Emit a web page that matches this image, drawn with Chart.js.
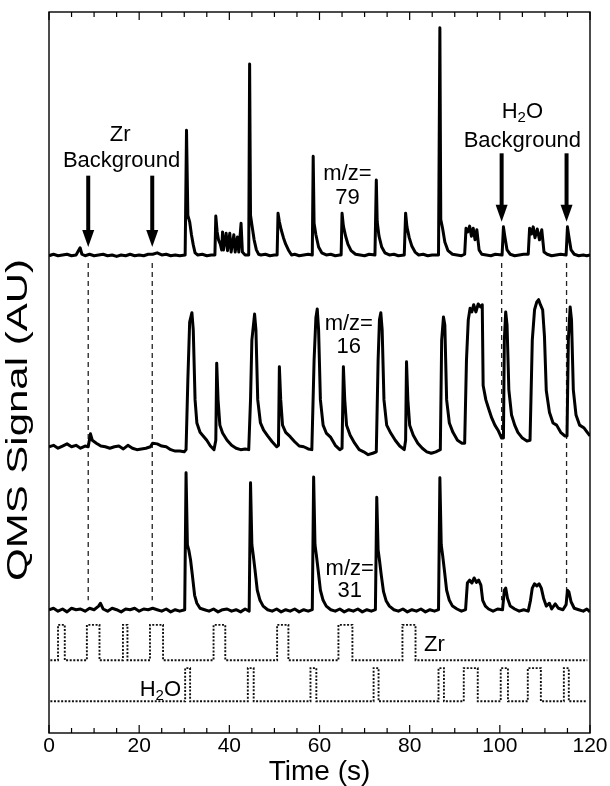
<!DOCTYPE html>
<html>
<head>
<meta charset="utf-8">
<title>QMS Signal vs Time</title>
<script src="https://cdn.jsdelivr.net/npm/chart.js@4.4.1/dist/chart.umd.min.js"></script>
<style>
  html, body { margin: 0; padding: 0; background: #fff; }
</style>
</head>
<body>
<canvas id="qms" width="610" height="786"></canvas>
<script>
// [time (s), signal (AU)] for each mass channel, traces already stacked
const mz79 = [[0,66.2],[1,66.4],[2,66.2],[3,66.3],[4,66.4],[5,66.2],[6,66.3],[6.9,67.3],[7.3,66.4],[8,66.2],[9,66.4],[10,66.2],[11,66.3],[12,66.4],[13,66.2],[14,66.3],[15,66.1],[16,66.3],[17,66.2],[18,66.4],[19,66.2],[20,66.3],[21,66.2],[22,66.4],[23,66.4],[24,66.6],[25,66.3],[26,66.4],[27,66.2],[28,66.3],[29,66.2],
  [30.2,66.3],[30.5,83.6],[30.8,71.8],[31.2,70.9],[31.6,69.1],[32,67.7],[32.4,66.6],[33,66.3],[34,66.4],[35,66.2],[36,66.3],[36.8,66.3],
  [37,71.7],[37.3,69.5],[37.6,68.4],[38,67.8],[38.3,67.0],[38.5,69.5],[38.7,67.0],[39.3,69.3],[39.6,66.9],[40.1,69.3],[40.4,66.7],[41,69.1],[41.3,66.7],[41.8,68.8],[42.1,66.7],[42.6,70.7],[42.9,66.7],[43.5,66.3],[44.3,66.3],
  [44.5,92.8],[44.7,71.8],[45,70.5],[45.5,68.4],[46,67.0],[46.5,66.4],[47,66.3],[48,66.4],[49,66.2],[50,66.3],[50.6,66.3],
  [50.8,72.1],[51.1,70.9],[51.5,69.8],[52,68.7],[52.5,67.8],[53.1,67.0],[53.8,66.3],[54.5,66.4],[55.5,66.2],[56.5,66.3],[57.5,66.4],[58.4,66.3],
  [58.6,80.0],[58.8,70.7],[59.2,69.1],[59.8,67.4],[60.5,66.6],[61.5,66.3],[62.5,66.4],[63.5,66.2],[64.5,66.3],[64.8,66.3],
  [65,72.1],[65.3,70.3],[65.8,68.9],[66.3,67.8],[67,66.9],[68,66.4],[69,66.3],[70,66.2],[71,66.4],[72.3,66.3],
  [72.6,76.7],[72.8,70.9],[73.2,68.9],[73.8,67.4],[74.5,66.6],[75.5,66.3],[76.5,66.4],[77.5,66.2],[78.8,66.3],
  [79.1,72.1],[79.4,70.2],[79.9,68.7],[80.5,67.5],[81.2,66.7],[82,66.3],[83,66.4],[84,66.2],[85,66.3],[86.4,66.3],
  [86.7,97.8],[86.9,71.2],[87.3,70.0],[87.8,68.1],[88.5,66.9],[89.5,66.4],[90.5,66.3],[91.5,66.2],[92.2,66.4],
  [92.5,70.0],[92.9,69.5],[93.3,70.3],[93.7,68.9],[94.1,70.0],[94.5,68.4],[94.9,69.8],[95.4,67.0],[96,66.4],[97,66.3],[98,66.2],[99,66.4],[100.5,66.3],
  [100.8,70.2],[101.1,68.9],[101.6,67.0],[102.3,66.4],[103.3,66.2],[104.3,66.3],[105.3,66.4],[106.3,66.4],
  [106.6,70.0],[107,69.2],[107.4,70.2],[107.8,68.7],[108.3,69.9],[108.8,68.4],[109.3,69.8],[109.8,66.7],[110.5,66.4],[111.5,66.2],[112.5,66.3],[113.5,66.4],[114.7,66.3],
  [115,70.2],[115.3,68.9],[115.8,67.0],[116.5,66.4],[117.5,66.2],[118.5,66.3],[119.3,66.2],[120,66.3]];

const mz16 = [[0,39.7],[1,39.9],[2,39.5],[3,39.8],[4,40.1],[5,39.7],[6,39.9],[7,39.5],[8,39.8],[8.7,39.7],[9.2,41.5],[9.6,40.6],[10.5,40.2],[11.5,39.8],[12.5,39.7],[13.5,39.5],[14.5,39.7],[15.5,39.8],[16.5,39.4],[17.5,39.9],[18.5,39.5],[19.5,39.3],[20.5,39.4],[21.5,39.5],[22.5,39.7],[23,40.2],[24,40.1],[25,39.8],[26,39.7],[27,39.3],[28,39.1],[29,39.1],[30,39.0],
  [30.4,39.3],[30.8,49.0],[31.2,57.0],[31.7,58.3],[32,55.9],[32.4,46.2],[32.8,43.0],[33.5,41.7],[34.2,41.2],[35,40.6],[35.8,39.8],[36.6,39.3],
  [37,40.6],[37.2,51.3],[37.5,46.2],[37.9,42.7],[38.5,41.6],[39.5,40.6],[40.5,39.9],[41.5,39.5],[42.5,39.3],[43.5,39.4],[44.3,39.3],
  [44.7,46.2],[45,54.5],[45.6,58.1],[45.9,55.9],[46.3,46.2],[46.9,43.0],[47.6,42.0],[48.5,41.2],[49.5,40.4],[50.5,39.7],
  [50.9,39.9],[51.1,50.8],[51.4,46.2],[51.8,42.7],[52.5,41.7],[53.5,41.1],[54.5,40.4],[55.5,39.8],[56.5,39.7],[57.5,39.4],[58.3,39.3],
  [58.8,51.7],[59.2,57.6],[59.5,58.8],[59.8,55.9],[60.2,46.2],[60.8,42.7],[61.5,41.6],[62.5,41.0],[63.5,39.9],[64.5,39.3],
  [65,39.5],[65.3,50.8],[65.6,46.2],[66,42.7],[66.8,41.3],[67.8,40.2],[68.8,39.3],[69.8,39.0],[70.8,38.6],[71.8,38.8],[72.6,39.0],
  [73,51.7],[73.3,57.3],[73.6,58.3],[73.9,55.9],[74.3,46.2],[74.9,42.7],[75.8,41.6],[76.8,40.6],[77.8,39.8],[78.8,39.3],
  [79.1,40.6],[79.3,51.5],[79.6,46.2],[80,42.7],[80.8,41.3],[81.8,40.2],[82.8,39.5],[83.8,39.0],[84.8,38.8],[85.8,39.0],[86.8,39.3],
  [87.1,54.5],[87.5,57.7],[87.8,56.6],[88.2,46.2],[88.8,43.0],[89.6,41.7],[90.6,40.6],[91.6,40.2],[92.2,40.2],
  [92.6,51.7],[93,57.3],[93.4,58.9],[93.8,58.4],[94.2,59.4],[94.7,58.4],[95.2,59.5],[95.7,59.1],[96.1,59.4],[96.3,48.2],[96.9,46.2],[97.5,45.0],[98.2,43.7],[98.9,42.7],[99.6,42.0],[100.4,40.9],[100.8,40.9],
  [101,54.5],[101.3,58.4],[101.6,56.6],[102,47.6],[102.6,44.1],[103.3,42.7],[104,41.7],[105,40.9],[106,40.5],[106.7,40.6],
  [107.2,54.5],[107.7,58.7],[108.2,59.8],[108.6,60.1],[109,59.4],[109.5,58.7],[109.9,55.0],[110.3,47.5],[111,44.5],[111.8,43.0],[112.6,42.7],[113.5,41.7],[114.4,41.2],[114.9,41.2],
  [115.2,54.5],[115.6,59.1],[115.9,57.3],[116.3,47.6],[116.9,44.1],[117.7,42.7],[118.7,42.3],[119.4,41.7],[120,41.2]];

const mz31 = [[0,17.1],[1,17.3],[2,16.9],[3,17.2],[4,16.8],[5,17.3],[6,17.1],[7,17.2],[8,16.9],[9,17.3],[10,17.1],[11,17.6],[11.4,18.0],[12,17.2],[13,16.9],[14,17.3],[15,17.1],[16,16.8],[17,17.2],[18,17.1],[19,17.3],[20,16.9],[21,17.2],[22,17.1],[23,17.3],[24,17.1],[25,16.9],[26,17.2],[27,16.8],[28,17.1],[29,16.9],
  [30.1,17.1],[30.4,36.1],[30.7,26.1],[31,25.4],[31.4,24.0],[31.8,21.9],[32.3,19.1],[32.8,18.0],[33.5,17.3],[34.5,17.1],[35.5,16.9],[36.5,17.2],[37.5,16.8],[38.5,17.1],[39.5,17.2],[40.5,16.9],[41.5,17.1],[42.5,16.8],[43.5,17.2],[44.4,16.9],
  [44.7,34.7],[45,26.1],[45.3,24.7],[45.7,22.6],[46.2,19.8],[46.8,18.4],[47.5,17.6],[48.5,17.1],[49.5,16.9],[50.5,17.2],[51.5,16.8],[52.5,17.1],[53.5,16.9],[54.5,17.2],[55.5,16.8],[56.5,17.1],[57.5,16.9],[58.4,17.1],
  [58.7,35.5],[59,26.1],[59.3,24.7],[59.7,22.6],[60.2,19.8],[60.8,18.4],[61.5,17.6],[62.5,17.1],[63.5,16.9],[64.5,17.2],[65.5,16.8],[66.5,17.1],[67.5,16.9],[68.5,17.2],[69.5,16.8],[70.5,17.1],[71.5,16.9],[72.4,17.1],
  [72.7,32.7],[73,25.4],[73.3,24.0],[73.7,21.9],[74.2,19.6],[74.8,18.3],[75.5,17.6],[76.5,17.1],[77.5,16.9],[78.5,17.2],[79.5,16.8],[80.5,17.1],[81.5,16.9],[82.5,17.2],[83.5,16.8],[84.5,17.1],[85.5,16.9],[86.4,17.1],
  [86.7,35.4],[87,26.1],[87.3,24.7],[87.7,22.6],[88.2,19.8],[88.8,18.4],[89.5,17.6],[90.5,17.2],[91.5,16.9],[92.4,17.1],
  [92.8,20.8],[93.3,21.2],[93.8,20.8],[94.3,21.5],[94.8,20.9],[95.3,21.2],[95.8,20.5],[96.2,18.4],[96.8,17.6],[97.5,17.2],[98.5,16.9],[99.5,17.2],[100.6,17.1],
  [101,19.8],[101.3,20.1],[101.7,18.7],[102.3,17.6],[103.3,17.2],[104.3,16.9],[105.3,17.1],[106.3,16.9],
  [106.8,18.4],[107.2,20.1],[107.7,20.7],[108.2,20.4],[108.7,20.7],[109.2,20.1],[109.7,18.7],[110.3,17.6],[111,18.0],[111.5,17.2],[112.3,17.9],[113,17.3],[114,17.1],
  [114.7,17.8],[115,19.8],[115.3,19.6],[115.8,18.2],[116.5,17.3],[117.5,17.1],[118.5,16.9],[119.3,17.2],[120,16.8]];

// precursor dosing: [valve open, valve close] in seconds
const zrPulses = [[2.0,3.5],[8.4,11.2],[16.4,17.4],[22.4,25.3],[36.5,39.1],[50.6,53.1],[64.2,67.3],[78.4,81.3]];
const h2oPulses = [[30.2,31.3],[44.1,45.4],[58.0,59.3],[72.0,73.1],[86.4,87.6],[92.0,95.1],[100.2,101.8],[106.2,109.1],[114.2,115.3]];
const zrLevels = [10.1, 15.0];   // closed, open
const h2oLevels = [4.4, 9.0];
const pulseSpan = [0.3, 119.4];

// background reference times and the signal range the guide lines cover
const zrBackground = [8.7, 22.9];
const h2oBackground = [100.4, 114.8];
const guideRange = [65.2, 18.4];
const zrArrowRange = [77.3, 67.4];
const h2oArrowRange = [80.4, 70.9];

const xTicks = [0, 20, 40, 60, 80, 100, 120];

const FONT = "'Liberation Sans', Arial, Helvetica, sans-serif";

function toPoints(pairs) {
    return pairs.map(function(p) { return { x: p[0], y: p[1] }; });
}

function pulseTrain(pulses, levels) {
    var low = levels[0], high = levels[1];
    var pts = [{ x: pulseSpan[0], y: low }];
    pulses.forEach(function(p) {
        pts.push({ x: p[0], y: low }, { x: p[0], y: high }, { x: p[1], y: high }, { x: p[1], y: low });
    });
    pts.push({ x: pulseSpan[1], y: low });
    return pts;
}

function trace(label, pairs) {
    return {
        label: label,
        data: toPoints(pairs),
        borderColor: '#000',
        borderWidth: 3,
        borderJoinStyle: 'round',
        pointRadius: 0,
        showLine: true
    };
}

function dotted(label, pts) {
    return {
        label: label,
        data: pts,
        borderColor: '#111',
        borderWidth: 1.9,
        borderDash: [2, 1.6],
        pointRadius: 0,
        showLine: true
    };
}

// dashed guides at the background times
var guides = zrBackground.concat(h2oBackground).map(function(t) {
    return {
        label: 'guide ' + t,
        data: [{ x: t, y: guideRange[0] }, { x: t, y: guideRange[1] }],
        borderColor: '#222',
        borderWidth: 1.3,
        borderDash: [5, 4],
        pointRadius: 0,
        showLine: true
    };
});

var datasets = [
    trace('m/z=79', mz79),
    trace('m/z=16', mz16),
    trace('m/z=31', mz31),
    dotted('Zr', pulseTrain(zrPulses, zrLevels)),
    dotted('H2O', pulseTrain(h2oPulses, h2oLevels))
].concat(guides);

// text labels in data coordinates
var notes = [
    { text: 'Zr', t: 15.8, v: 82.9 },
    { text: 'Background', t: 16.1, v: 79.3 },
    { text: 'Background', t: 105.0, v: 82.1 },
    { text: 'm/z=', t: 66.2, v: 77.6 },
    { text: '79', t: 66.2, v: 74.2 },
    { text: 'm/z=', t: 66.5, v: 56.8 },
    { text: '16', t: 66.5, v: 53.5 },
    { text: 'm/z=', t: 66.7, v: 22.8 },
    { text: '31', t: 66.7, v: 19.7 },
    { text: 'Zr', t: 85.5, v: 12.2 }
];
var waterNotes = [
    { t: 105.0, v: 86.2 },
    { t: 24.7, v: 6.0 }
];

function drawWater(ctx, cx, cy) {
    ctx.font = '22px ' + FONT;
    var wH = ctx.measureText('H').width;
    var wO = ctx.measureText('O').width;
    ctx.font = '15px ' + FONT;
    var w2 = ctx.measureText('2').width;
    var x = cx - (wH + w2 + wO) / 2;
    ctx.textAlign = 'left';
    ctx.font = '22px ' + FONT;
    ctx.fillText('H', x, cy);
    ctx.font = '15px ' + FONT;
    ctx.fillText('2', x + wH, cy + 6);
    ctx.font = '22px ' + FONT;
    ctx.fillText('O', x + wH + w2, cy);
}

function drawArrow(ctx, x, yTop, yTip) {
    var head = 17, half = 6;
    ctx.lineWidth = 4;
    ctx.beginPath();
    ctx.moveTo(x, yTop);
    ctx.lineTo(x, yTip - head + 2);
    ctx.stroke();
    ctx.beginPath();
    ctx.moveTo(x - half, yTip - head);
    ctx.lineTo(x + half, yTip - head);
    ctx.lineTo(x, yTip);
    ctx.closePath();
    ctx.fill();
}

var decorations = {
    id: 'decorations',
    afterDatasetsDraw: function(chart) {
        var ctx = chart.ctx;
        var a = chart.chartArea;
        var xs = chart.scales.x, ys = chart.scales.y;
        ctx.save();
        ctx.strokeStyle = '#000';
        ctx.fillStyle = '#000';

        // frame and inward ticks, top and bottom
        ctx.lineWidth = 1.4;
        ctx.strokeRect(a.left, a.top, a.right - a.left, a.bottom - a.top);
        ctx.lineWidth = 1.2;
        for (var t = 0; t <= 120; t += 5) {
            var px = xs.getPixelForValue(t);
            var len = (t % 20 === 0) ? 8 : 5;
            ctx.beginPath();
            ctx.moveTo(px, a.bottom); ctx.lineTo(px, a.bottom - len);
            ctx.moveTo(px, a.top); ctx.lineTo(px, a.top + len);
            ctx.stroke();
        }

        // background arrows
        zrBackground.forEach(function(t) {
            drawArrow(ctx, xs.getPixelForValue(t), ys.getPixelForValue(zrArrowRange[0]), ys.getPixelForValue(zrArrowRange[1]));
        });
        h2oBackground.forEach(function(t) {
            drawArrow(ctx, xs.getPixelForValue(t), ys.getPixelForValue(h2oArrowRange[0]), ys.getPixelForValue(h2oArrowRange[1]));
        });

        // labels
        ctx.textBaseline = 'middle';
        ctx.textAlign = 'center';
        ctx.font = '22px ' + FONT;
        notes.forEach(function(n) {
            ctx.fillText(n.text, xs.getPixelForValue(n.t), ys.getPixelForValue(n.v));
        });
        waterNotes.forEach(function(n) {
            drawWater(ctx, xs.getPixelForValue(n.t), ys.getPixelForValue(n.v));
        });

        // y axis title, stretched along its length
        var yTitle = 'QMS Signal (AU)';
        ctx.translate(19, 420);
        ctx.rotate(-Math.PI / 2);
        ctx.textAlign = 'center';
        ctx.font = '29px ' + FONT;
        ctx.scale(322 / ctx.measureText(yTitle).width, 1);
        ctx.fillText(yTitle, 0, 0);
        ctx.restore();
    }
};

new Chart(document.getElementById('qms').getContext('2d'), {
    type: 'scatter',
    data: { datasets: datasets },
    options: {
        responsive: false,
        animation: false,
        layout: { padding: { left: 0, right: 20, top: 12, bottom: 0 } },
        plugins: { legend: { display: false }, tooltip: { enabled: false } },
        elements: { line: { tension: 0 } },
        scales: {
            x: {
                type: 'linear',
                min: 0,
                max: 120,
                afterBuildTicks: function(scale) {
                    scale.ticks = xTicks.map(function(v) { return { value: v }; });
                },
                grid: { display: false, drawTicks: false },
                border: { display: false },
                ticks: { padding: 1, color: '#000', font: { family: FONT, size: 21 } },
                title: {
                    display: true,
                    text: 'Time (s)',
                    color: '#000',
                    font: { family: FONT, size: 28, lineHeight: 1 },
                    padding: { top: 0, bottom: 0 }
                },
                afterFit: function(scale) { scale.height = 53; }
            },
            y: {
                min: 0,
                max: 100,
                grid: { display: false, drawTicks: false },
                border: { display: false },
                ticks: { display: false },
                afterFit: function(scale) { scale.width = 49; }
            }
        }
    },
    plugins: [decorations]
});
</script>
</body>
</html>
